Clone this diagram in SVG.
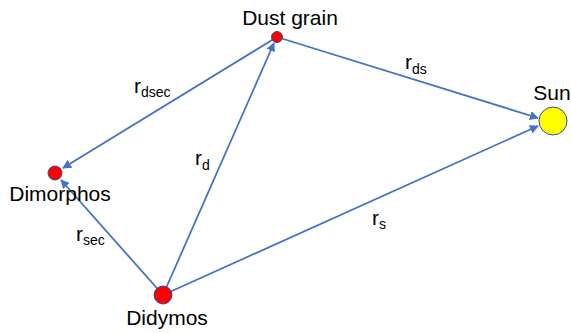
<svg xmlns="http://www.w3.org/2000/svg" width="571" height="333" viewBox="0 0 571 333">
<style>
.lbl{font-family:"Liberation Sans",Arial,sans-serif;font-size:21px;fill:#000}
.sub{font-size:14px}
.node{stroke:#2F528F;stroke-width:1}
.edge{stroke:#4472C4;stroke-width:1.8;fill:none;marker-end:url(#ah)}
</style>
<defs>
<marker id="ah" viewBox="0 0 10 10" refX="9" refY="5" markerWidth="5" markerHeight="5" orient="auto" markerUnits="strokeWidth">
<path d="M0,0 L10,5 L0,10 Z" fill="#4472C4"/>
</marker>
</defs>
<g id="connectors">
<line class="edge" x1="277" y1="37" x2="63" y2="168"/>
<line class="edge" x1="163" y1="295" x2="61" y2="180"/>
<line class="edge" x1="163" y1="295" x2="274" y2="43"/>
<line class="edge" x1="277" y1="37" x2="538" y2="118"/>
<line class="edge" x1="163" y1="295" x2="538" y2="126"/>
</g>
<g id="dust">
<circle class="node" cx="277" cy="37" r="5.5" fill="#FF0000"/>
<text class="lbl" x="290" y="25" text-anchor="middle">Dust grain</text>
</g>
<g id="dimorphos">
<circle class="node" cx="55" cy="173" r="7" fill="#FF0000"/>
<text class="lbl" x="60" y="201" text-anchor="middle">Dimorphos</text>
</g>
<g id="didymos">
<circle class="node" cx="163" cy="295" r="9" fill="#FF0000"/>
<text class="lbl" x="167" y="325" text-anchor="middle">Didymos</text>
</g>
<g id="sun">
<circle class="node" cx="553" cy="121" r="14" fill="#FFFF00"/>
<text class="lbl" x="552" y="100" text-anchor="middle">Sun</text>
</g>
<g id="labels">
<text class="lbl" x="134" y="93">r<tspan class="sub" dy="4">dsec</tspan></text>
<text class="lbl" x="195" y="165">r<tspan class="sub" dy="5">d</tspan></text>
<text class="lbl" x="405" y="69">r<tspan class="sub" dy="5">ds</tspan></text>
<text class="lbl" x="76" y="241">r<tspan class="sub" dy="4">sec</tspan></text>
<text class="lbl" x="372" y="225">r<tspan class="sub" dy="4">s</tspan></text>
</g>
</svg>
